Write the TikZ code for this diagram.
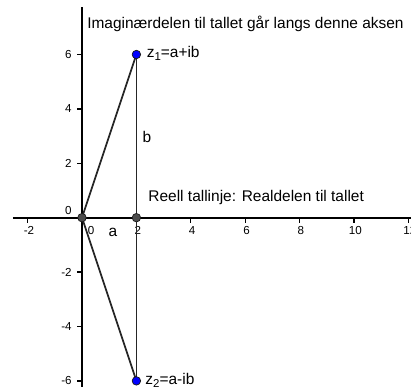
\documentclass[tikz,border=0pt]{standalone}
\usepackage{fontspec}
\setmainfont{Liberation Sans}
\usetikzlibrary{positioning}

\begin{document}
\begin{tikzpicture}[
    x=0.544cm, y=0.544cm,
    axis/.style={line width=1pt, black},
    seg/.style={line width=1pt, black!85},
    tickmark/.style={line width=0.7pt, black},
    ticklabel/.style={inner sep=0pt, font=\fontsize{6.6}{7}\selectfont},
    lbl/.style={inner sep=0pt, font=\fontsize{8.8}{10}\selectfont},
    dot/.style={circle, draw=black!90, fill=black!70, line width=0.4pt, minimum size=0.17cm, inner sep=0pt},
    bluedot/.style={dot, fill=blue}
]
    \clip (-3.015,-6.224) rectangle (12.096,8.004);

    \coordinate (xmin) at (-2.54,0);
    \coordinate (xmax) at (12.2,0);
    \coordinate (ymin) at (0,-6.3);
    \coordinate (ymax) at (0,7.75);
    \coordinate (O) at (0,0);
    \coordinate (A) at (2,0);
    \coordinate (Z1) at (2,6);
    \coordinate (Z2) at (2,-6);

    \draw[axis] (xmin) -- (xmax);
    \draw[axis] (ymin) -- (ymax);

    \foreach \x in {-2,2,4,6,8,10,12} {
        \draw[tickmark] (\x,0) -- (\x,-0.2);
        \node[ticklabel, anchor=north] (xl\x) at (\x+0.05,-0.3) {\x};
    }
    \foreach \y in {-6,-4,-2,2,4,6} {
        \draw[tickmark] (0,\y) -- (-0.2,\y);
        \node[ticklabel, anchor=east] (yl\y) at (-0.37,\y) {\y};
    }
    \node[ticklabel, anchor=east] (y0) at (-0.37,0.25) {0};
    \node[ticklabel, anchor=north] (x0) at (0.33,-0.3) {0};

    \draw[seg] (O) -- (Z1);
    \draw[seg] (O) -- (Z2);
    \draw[seg] (Z1) -- (Z2);

    \node[dot] (o) at (O) {};
    \node[dot] (a) at (A) {};
    \node[bluedot] (z1) at (Z1) {};
    \node[bluedot] (z2) at (Z2) {};

    \node[lbl, anchor=base west] (imag) at (0.18,6.97) {Imaginærdelen til tallet går langs denne aksen};
    \node[lbl, anchor=base west] (real) at (2.43,0.59) {Reell tallinje: Realdelen til tallet};
    \node[lbl, anchor=base west] (z1lbl) at (2.37,5.9) {z\raisebox{-0.45ex}{\fontsize{6.5}{7}\selectfont 1}=a+ib};
    \node[lbl, anchor=base west] (z2lbl) at (2.32,-6.12) {z\raisebox{-0.45ex}{\fontsize{6.5}{7}\selectfont 2}=a-ib};
    \node[lbl] (blbl) at (2.39,2.96) {b};
    \node[lbl] (albl) at (1.14,-0.53) {a};
\end{tikzpicture}
\end{document}
